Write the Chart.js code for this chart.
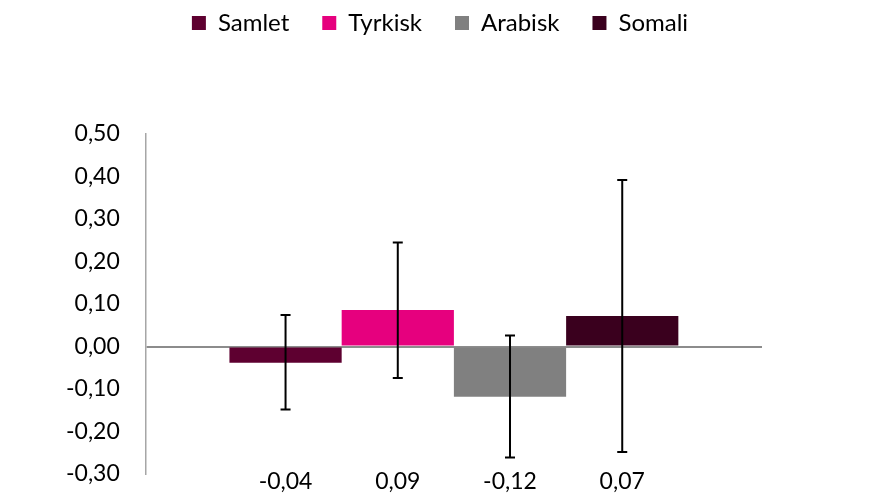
<!DOCTYPE html>
<html>
<head>
<meta charset="utf-8">
<title>Samlet / Tyrkisk / Arabisk / Somali</title>
<script src="https://cdn.jsdelivr.net/npm/chart.js@4.4.1/dist/chart.umd.min.js"></script>
<style>
    body {
        margin: 0;
        background: #ffffff;
    }
    #chartBox {
        width: 870px;
        height: 497px;
    }
</style>
</head>
<body>
<div id="chartBox">
    <canvas id="effectChart" width="870" height="497"></canvas>
</div>
<script>
// Chart data
const seriesNames = ['Samlet', 'Tyrkisk', 'Arabisk', 'Somali'];
const seriesValues = [-0.038, 0.086, -0.118, 0.072];
const errorLow = [-0.148, -0.074, -0.261, -0.248];
const errorHigh = [0.074, 0.245, 0.026, 0.392];
const seriesColors = ['#5e0030', '#e6007e', '#808080', '#3a001e'];

// Y axis range
const yMin = -0.30;
const yMax = 0.50;
const yStep = 0.10;

const fontName = 'Lato, "Open Sans", sans-serif';

function formatNumber(value) {
    let v = Math.round(value * 100) / 100;
    if (Math.abs(v) < 1e-9) v = 0;
    return v.toFixed(2).replace('.', ',');
}

// Leaves extra room under the legend and moves it up and to the centre of the page
const legendPlacePlugin = {
    id: 'legendPlace',
    beforeInit(chart) {
        const originalFit = chart.legend.fit;
        chart.legend.fit = function fit() {
            originalFit.bind(chart.legend)();
            this.height += 67;
        };
    },
    afterLayout(chart) {
        const lg = chart.legend;
        const shiftX = 440 - (lg.left + lg.right) / 2;
        lg.left += shiftX;
        lg.right += shiftX;
        lg.top -= 22;
        lg.bottom -= 22;
    }
};

// Draws the error bars on top of each bar
const errorBarPlugin = {
    id: 'errorBars',
    afterDatasetsDraw(chart) {
        const ctx = chart.ctx;
        const yScale = chart.scales.y;
        const capHalf = 5;

        ctx.save();
        ctx.strokeStyle = '#000000';
        ctx.lineWidth = 2;

        chart.data.datasets.forEach(function(ds, i) {
            const bar = chart.getDatasetMeta(i).data[0];
            const yLow = yScale.getPixelForValue(errorLow[i]);
            const yHigh = yScale.getPixelForValue(errorHigh[i]);

            ctx.beginPath();
            ctx.moveTo(bar.x, yLow);
            ctx.lineTo(bar.x, yHigh);
            ctx.moveTo(bar.x - capHalf, yLow);
            ctx.lineTo(bar.x + capHalf, yLow);
            ctx.moveTo(bar.x - capHalf, yHigh);
            ctx.lineTo(bar.x + capHalf, yHigh);
            ctx.stroke();
        });

        ctx.restore();
    }
};

// Writes each value under its bar, below the plot
const valueLabelPlugin = {
    id: 'valueLabels',
    afterDraw(chart) {
        const ctx = chart.ctx;
        const area = chart.chartArea;

        ctx.save();
        ctx.font = '23px ' + fontName;
        ctx.fillStyle = '#000000';
        ctx.textAlign = 'center';
        ctx.textBaseline = 'middle';

        chart.data.datasets.forEach(function(ds, i) {
            const bar = chart.getDatasetMeta(i).data[0];
            ctx.fillText(formatNumber(ds.data[0]), bar.x, area.bottom + 8);
        });

        ctx.restore();
    }
};

function buildDatasets() {
    return seriesNames.map(function(name, i) {
        return {
            label: name,
            data: [seriesValues[i]],
            backgroundColor: seriesColors[i],
            borderWidth: 0,
            categoryPercentage: 0.7285,
            barPercentage: 1.0
        };
    });
}

function initializeChart() {
    const ctx = document.getElementById('effectChart').getContext('2d');

    new Chart(ctx, {
        type: 'bar',
        data: {
            labels: [''],
            datasets: buildDatasets()
        },
        options: {
            responsive: false,
            animation: false,
            layout: {
                padding: { top: 0, right: 108, bottom: 23, left: 40 }
            },
            plugins: {
                legend: {
                    position: 'top',
                    labels: {
                        boxWidth: 14,
                        boxHeight: 14,
                        padding: 33,
                        color: '#000000',
                        font: { family: fontName, size: 24 }
                    }
                },
                tooltip: { enabled: false }
            },
            scales: {
                x: {
                    display: false
                },
                y: {
                    min: yMin,
                    max: yMax,
                    z: 1,
                    afterFit: function(scale) {
                        // tick padding is meant for the horizontal gap only
                        scale.paddingTop = 0;
                        scale.paddingBottom = 0;
                    },
                    border: {
                        display: true,
                        color: '#a6a6a6',
                        width: 1.5
                    },
                    grid: {
                        drawTicks: false,
                        lineWidth: 2,
                        color: function(c) {
                            return Math.abs(c.tick.value) < 1e-9 ? '#8c8c8c' : 'rgba(0,0,0,0)';
                        }
                    },
                    ticks: {
                        stepSize: yStep,
                        padding: 26,
                        color: '#000000',
                        font: { family: fontName, size: 23 },
                        callback: function(value) {
                            return formatNumber(value);
                        }
                    }
                }
            }
        },
        plugins: [legendPlacePlugin, errorBarPlugin, valueLabelPlugin]
    });
}

document.addEventListener('DOMContentLoaded', function() {
    initializeChart();
});
</script>
</body>
</html>
